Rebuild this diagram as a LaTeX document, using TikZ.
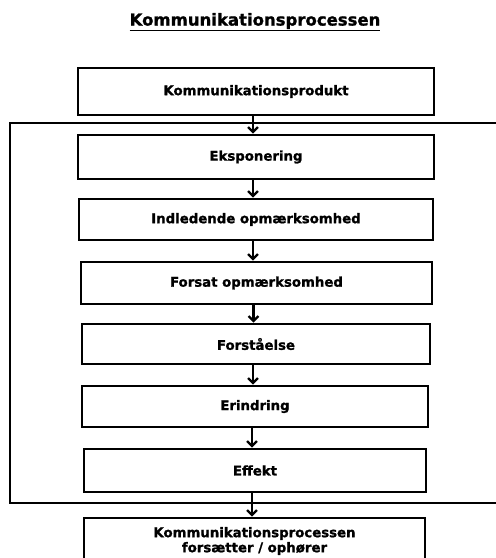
\documentclass[tikz,border=0pt]{standalone}
\usepackage{fontspec}
\setmainfont{DejaVu Sans}[BoldFeatures={FakeBold=1.2}]
\usetikzlibrary{arrows.meta}
\begin{document}
\begin{tikzpicture}[x=1pt,y=-1pt,
  box/.style={draw=black,line width=2.8pt,minimum height=#1,inner sep=0pt,font=\fontsize{13.3}{15}\bfseries\selectfont,align=center},
  box/.default=44pt,
  arr/.style={line width=2.2pt,-{Straight Barb[length=5pt,width=10pt,line width=2.2pt]}},
  frame/.style={line width=1.2pt}]
\useasboundingbox (0,0) rectangle (496,558);
\clip (0,0) rectangle (496,558);
\node[font=\fontsize{16.5}{18}\bfseries\selectfont] (title) at (255,22) {\underline{Kommunikationsprocessen}};
\draw[frame] (500,123) -- (10,123) -- (10,503) -- (500,503);
\node[box=47pt,minimum width=356pt] (b1) at (256,91.5) {Kommunikationsprodukt};
\node[box=44pt,minimum width=356pt] (b2) at (256,157) {Eksponering};
\node[box=41pt,minimum width=354pt] (b3) at (256,219.5) {Indledende opmærksomhed};
\node[box=42pt,minimum width=351pt] (b4) at (256.5,283) {Forsat opmærksomhed};
\node[box=40pt,minimum width=348pt] (b5) at (256,344) {Forståelse};
\node[box=41pt,minimum width=346pt] (b6) at (255,406.5) {Erindring};
\node[box=43pt,minimum width=342pt] (b7) at (255,470.5) {Effekt};
\node[box=46pt,minimum width=341pt] (b8) at (254.5,541) {Kommunikationsprocessen\\forsætter / ophører};
\foreach \a/\b in {b1/b2,b2/b3,b3/b4,b4/b5,b5/b6,b6/b7,b7/b8}
  \draw[arr] ([xshift=-3pt]\a.south) -- ([xshift=-3pt]\a.south |- \b.north);
\end{tikzpicture}
\end{document}
